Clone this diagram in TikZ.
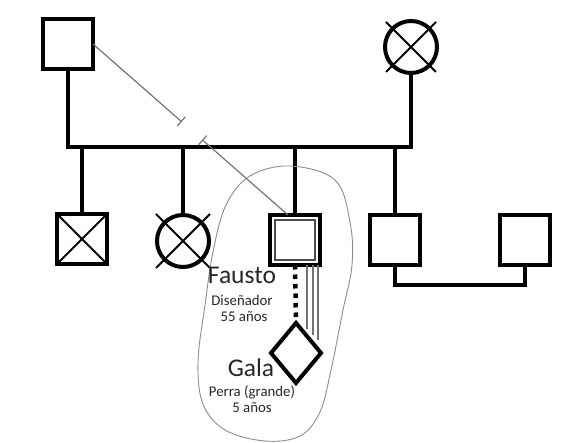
\documentclass[tikz,border=0pt]{standalone}
\usepackage{fontspec}
\setmainfont{Carlito}
\usetikzlibrary{calc,shapes.geometric,arrows.meta}

\begin{document}
\begin{tikzpicture}[x=1pt, y=-1pt,
		linea/.style={line width=4.2pt, line join=miter},
		hombre/.style={draw, line width=4.2pt, minimum size=50pt, inner sep=0pt, outer sep=0pt},
		mujer/.style={draw, circle, line width=4pt, minimum size=52pt, inner sep=0pt, outer sep=0pt},
		cruz/.style={line width=1.9pt},
		fina/.style={black!55, line width=1.2pt},
		nombre/.style={anchor=base, text=black!85, font=\fontsize{25.5}{27}\selectfont},
		dato/.style={anchor=base, text=black!85, font=\fontsize{14.8}{16}\selectfont}]
	\useasboundingbox (0,0) rectangle (566,443);

	% Padres
	\node[hombre] (padre) at (68,44) {};
	\node[mujer] (madre) at (411,47) {};
	\draw[cruz] ($(madre)+(-25,-25)$) -- ($(madre)+(25,25)$) ($(madre)+(-25,25)$) -- ($(madre)+(25,-25)$);

	% Hijos
	\node[hombre] (h1) at (82,239) {};
	\draw[cruz] (h1.north west) -- (h1.south east) (h1.south west) -- (h1.north east);
	\node[mujer] (h2) at (183,241) {};
	\draw[cruz] ($(h2)+(-27,-27)$) -- ($(h2)+(27,27)$) ($(h2)+(-27,27)$) -- ($(h2)+(27,-27)$);
	\node[hombre] (fausto) at (295,240) {};
	\node[draw, black!70, line width=1.1pt, minimum size=40pt, inner sep=0pt] (fausto-in) at (fausto) {};
	\node[hombre] (h4) at (395,240) {};
	\node[hombre] (h5) at (525,240) {};

	% Lineas de familia
	\coordinate (barra) at (0,147);
	\coordinate (abajo) at (0,285);
	\draw[linea] (padre.south) -- (padre.south |- barra) -- (madre.south |- barra) -- (madre.south);
	\foreach \h in {h1,h2,fausto,h4}
		\draw[linea] (\h.north) -- (\h.north |- barra);
	\draw[linea] (h4.south) -- (h4.south |- abajo) -- (h5.south |- abajo) -- (h5.south);

	% Relacion cortada
	\coordinate (fin) at ($(fausto.north)+(-7,0)$);
	\draw[fina, -{Bar[width=12pt]}] (padre.east) -- ($(padre.east)!0.455!(fin)$);
	\draw[fina, {Bar[width=12pt]}-] ($(padre.east)!0.56!(fin)$) -- (fin);

	% Mascota
	\node[draw, diamond, line width=4pt, minimum width=50pt, minimum height=60pt, inner sep=0pt, outer sep=0pt] (gala) at (296,353) {};
	\draw[line width=4.5pt, dash pattern=on 4.5pt off 5pt] (fausto.south) -- (gala.north);
	\foreach \dx/\largo in {12/64, 18/70, 23/75}
		\draw[fina] ($(fausto.south)+(\dx,0)$) -- ++(0,\largo);

	% Hogar
	\draw[black!45, line width=0.9pt] plot[smooth cycle, tension=0.6] coordinates {(290,166) (335,180) (350,222) (352,265) (343,310) (331,370) (320,412) (300,436) (265,441) (225,430) (203,404) (198,362) (205,305) (213,252) (226,205) (250,176)};

	% Textos
	\node[nombre] (t-fausto) at (242,284) {Fausto};
	\node[dato] (t-oficio) at (242,306) {Diseñador};
	\node[dato] (t-edad) at (244,322) {55 años};
	\node[nombre] (t-gala) at (251,377) {Gala};
	\node[dato] (t-raza) at (252,397) {Perra (grande)};
	\node[dato] (t-edad2) at (252,413) {5 años};
\end{tikzpicture}
\end{document}
